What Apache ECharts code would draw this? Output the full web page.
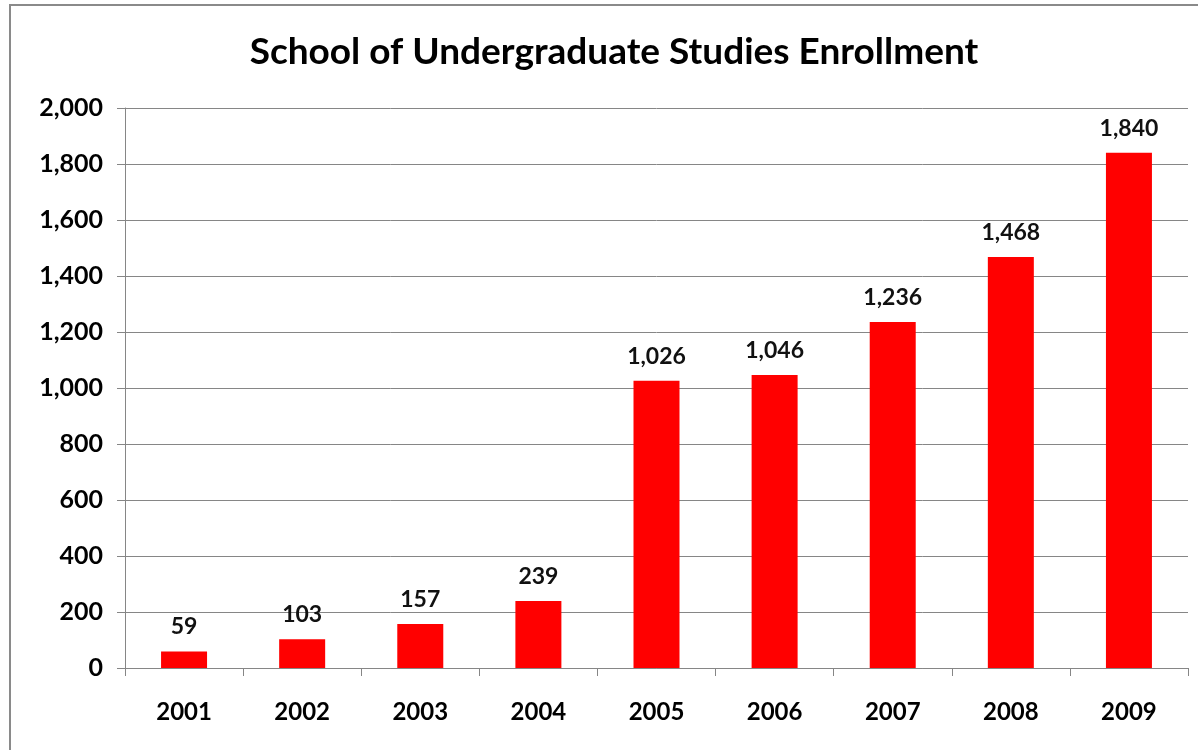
<!DOCTYPE html>
<html><head><meta charset="utf-8">
<script src="https://cdn.jsdelivr.net/npm/echarts@6/dist/echarts.min.js"></script>
<style>html,body{margin:0;padding:0;background:#fff}#c{width:1198px;height:750px}</style>
</head><body><div id="c"></div>
<script>
const categories = ['2001','2002','2003','2004','2005','2006','2007','2008','2009'];
const enrollment = [59,103,157,239,1026,1046,1236,1468,1840];
const titleText = 'School of Undergraduate Studies Enrollment';
const FONT = 'Lato, Carlito, "Open Sans", sans-serif';
const chart = echarts.init(document.getElementById('c'));
chart.setOption({
  animation:false,
  backgroundColor:'#ffffff',
  graphic:[{type:'rect',shape:{x:10,y:5,width:1300,height:900},style:{fill:'none',stroke:'#8a8a8a',lineWidth:2},silent:true}],
  title:{text:titleText,left:609,top:29,textAlign:'center',textStyle:{fontFamily:FONT,fontWeight:'bold',fontSize:37,color:'#000'}},
  grid:{left:125,right:10,top:108,bottom:82,containLabel:false},
  xAxis:{type:'category',data:categories,
    axisLine:{lineStyle:{color:'#868686',width:1}},
    axisTick:{show:true,length:8,interval:0,lineStyle:{color:'#868686'}},
    axisLabel:{margin:32,fontFamily:FONT,fontWeight:'bold',fontSize:24,color:'#000'}},
  yAxis:{type:'value',min:0,max:2000,interval:200,
    axisLine:{show:true,lineStyle:{color:'#868686',width:1}},
    axisTick:{show:true,length:8,lineStyle:{color:'#868686'}},
    splitLine:{lineStyle:{color:'#868686',width:1}},
    axisLabel:{margin:22,fontFamily:FONT,fontWeight:'bold',fontSize:25,color:'#000',
      formatter:v=>v.toLocaleString('en-US')}},
  series:[{type:'bar',data:enrollment,barWidth:46,
    itemStyle:{color:'#ff0000'},
    label:{show:true,position:'top',distance:13,fontFamily:FONT,fontWeight:'bold',fontSize:23,color:'#111',
      formatter:p=>p.value.toLocaleString('en-US')}}]
});
</script></body></html>
